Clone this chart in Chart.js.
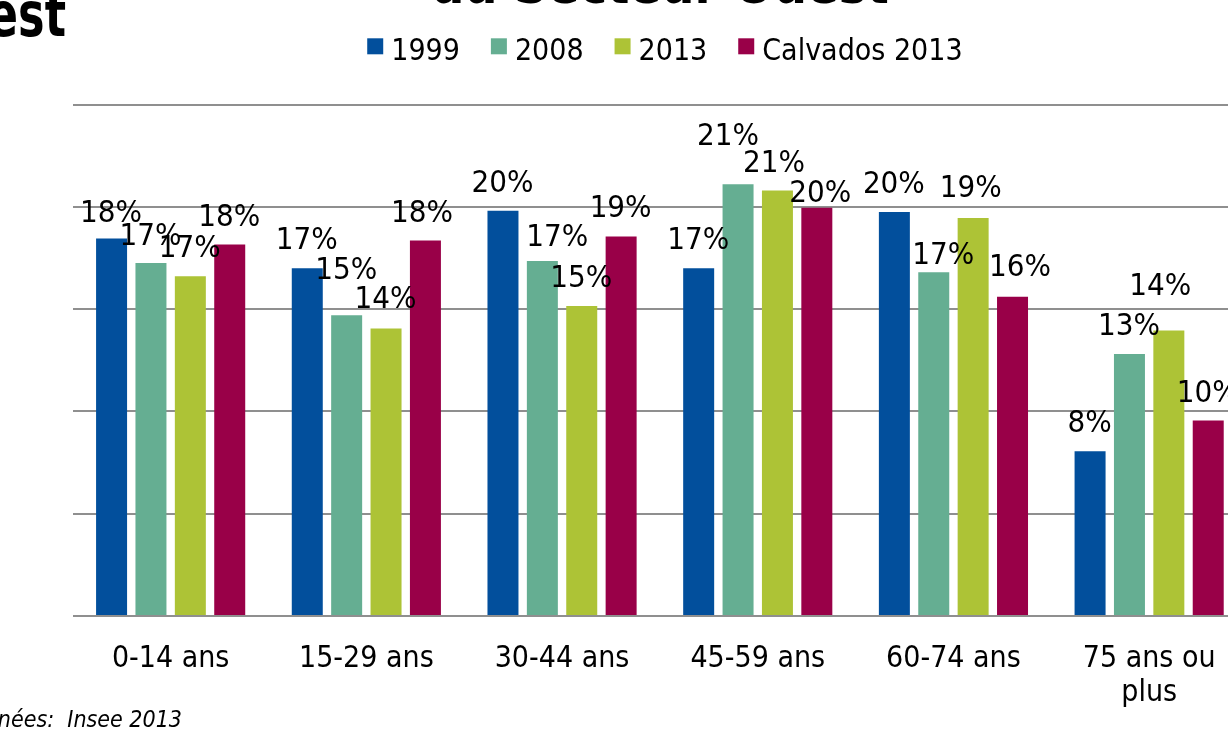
<!DOCTYPE html>
<html>
<head>
<meta charset="utf-8">
<script src="https://cdn.jsdelivr.net/npm/chart.js@4.4.1/dist/chart.umd.min.js"></script>
<style>
  html, body { margin: 0; padding: 0; background: #ffffff; }
  body { width: 1228px; height: 735px; overflow: hidden; position: relative; }
  #wrap { position: absolute; left: 0; top: -40px; width: 1320px; height: 780px; }
  #slideTitle {
    position: absolute; left: -1000px; width: 1066px; top: -15.7px; text-align: right;
    font-family: 'DejaVu Sans Condensed', 'DejaVu Sans', sans-serif; font-weight: bold;
    font-size: 62px; line-height: 62px; color: #000; white-space: nowrap;
    transform: scaleX(0.8); transform-origin: right center;
  }
  #source {
    position: absolute; left: -1000px; width: 1182px; top: 708.3px; text-align: right;
    font-family: 'DejaVu Sans Condensed', 'DejaVu Sans', sans-serif; font-style: italic;
    font-size: 23px; line-height: 23px; color: #000; white-space: pre;
  }
</style>
</head>
<body>
<div id="wrap"><canvas id="chart" width="1320" height="780"></canvas></div>
<div id="slideTitle">Secteur Ouest</div>
<div id="source">Données:  Insee 2013</div>
<script>
// ---- data ----
const categories = ['0-14 ans', '15-29 ans', '30-44 ans', '45-59 ans', '60-74 ans', ['75 ans ou', 'plus']];
const seriesNames = ['1999', '2008', '2013', 'Calvados 2013'];
const values1999 = [18.45, 17.0, 19.8, 17.0, 19.75, 8.05];
const values2008 = [17.25, 14.7, 17.35, 21.1, 16.8, 12.8];
const values2013 = [16.6, 14.05, 15.15, 20.8, 19.45, 13.95];
const valuesCalvados = [18.15, 18.35, 18.55, 19.95, 15.6, 9.55];
const yTickValues = [0, 5, 10, 15, 20, 25];
const chartTitle = 'du Secteur Ouest';

// ---- styles ----
const FONT = "'DejaVu Sans Condensed', 'DejaVu Sans', sans-serif";
const seriesColors = ['#024f9c', '#65ae92', '#adc336', '#990048'];

const barValueLabels = {
  id: 'barValueLabels',
  afterDatasetsDraw(chart, args, opts) {
    const ctx = chart.ctx;
    ctx.save();
    ctx.font = opts.font;
    ctx.fillStyle = opts.color;
    ctx.textAlign = 'center';
    ctx.textBaseline = 'alphabetic';
    chart.data.datasets.forEach((ds, di) => {
      const meta = chart.getDatasetMeta(di);
      meta.data.forEach((bar, i) => {
        const n = (opts.nudges[di] && opts.nudges[di][i]) || [0, 0];
        ctx.fillText(Math.round(ds.data[i]) + '%', bar.x + opts.dx + n[0], bar.y - opts.gap + n[1]);
      });
    });
    ctx.restore();
  }
};

const topLegend = {
  id: 'topLegend',
  afterDraw(chart, args, opts) {
    const ctx = chart.ctx;
    ctx.save();
    ctx.font = opts.font;
    ctx.textBaseline = 'alphabetic';
    ctx.textAlign = 'left';
    const items = chart.data.datasets.map(d => ({ text: d.label, color: d.backgroundColor, w: ctx.measureText(d.label).width }));
    let total = 0;
    items.forEach((it, k) => { total += opts.box + opts.boxGap + it.w + (k < items.length - 1 ? opts.itemGap : 0); });
    const ca = chart.chartArea;
    let x = (ca.left + ca.right) / 2 + opts.shift - total / 2;
    items.forEach(it => {
      ctx.fillStyle = it.color;
      ctx.fillRect(x, opts.boxTop, opts.box, opts.box);
      ctx.fillStyle = opts.color;
      ctx.fillText(it.text, x + opts.box + opts.boxGap, opts.baseline);
      x += opts.box + opts.boxGap + it.w + opts.itemGap;
    });
    ctx.restore();
  }
};

const seriesValues = [values1999, values2008, values2013, valuesCalvados];

new Chart(document.getElementById('chart'), {
  type: 'bar',
  data: {
    labels: categories,
    datasets: seriesNames.map((name, k) => ({
      label: name,
      data: seriesValues[k],
      backgroundColor: seriesColors[k],
      borderWidth: 0,
      categoryPercentage: 0.805,
      barPercentage: 0.787
    }))
  },
  plugins: [barValueLabels, topLegend],
  options: {
    responsive: false,
    animation: false,
    devicePixelRatio: 1,
    layout: { padding: { left: 72.8, right: 73, top: 0, bottom: 3.9 } },
    plugins: {
      legend: { display: false },
      tooltip: { enabled: false },
      title: {
        display: true, text: chartTitle, color: '#000',
        font: { family: FONT, size: 52, weight: 'bold', lineHeight: 1 },
        padding: { top: 3.6, bottom: 88.9 }
      },
      barValueLabels: {
        font: '31px ' + FONT, color: '#000', gap: 19, dx: -0.5,
        nudges: {
          0: { 0: [0, 3] },
          1: { 0: [0, 1.3], 1: [0, -17], 2: [15.5, 4], 3: [-9.5, -20], 4: [10, 10.7] },
          2: { 1: [0, -1], 3: [-3, 1], 4: [-2, -1.7], 5: [-8, -17] },
          3: { 1: [-3, 0.6], 3: [4, 13], 4: [8, -1.6] }
        }
      },
      topLegend: {
        font: '30px ' + FONT, color: '#000', box: 16, boxGap: 8, itemGap: 31,
        boxTop: 78.3, baseline: 100, shift: 5
      }
    },
    scales: {
      x: {
        grid: { display: false, drawTicks: false },
        border: { display: false },
        ticks: {
          color: '#000', autoSkip: false, maxRotation: 0, padding: 26.5,
          font: { family: FONT, size: 30, lineHeight: 1.12 }
        }
      },
      y: {
        min: yTickValues[0], max: yTickValues[yTickValues.length - 1],
        afterBuildTicks: axis => { axis.ticks = yTickValues.map(v => ({ value: v })); },
        ticks: { display: false },
        grid: { color: '#8f8f8f', lineWidth: 2, drawTicks: false },
        border: { display: false }
      }
    }
  }
});
</script>
</body>
</html>
